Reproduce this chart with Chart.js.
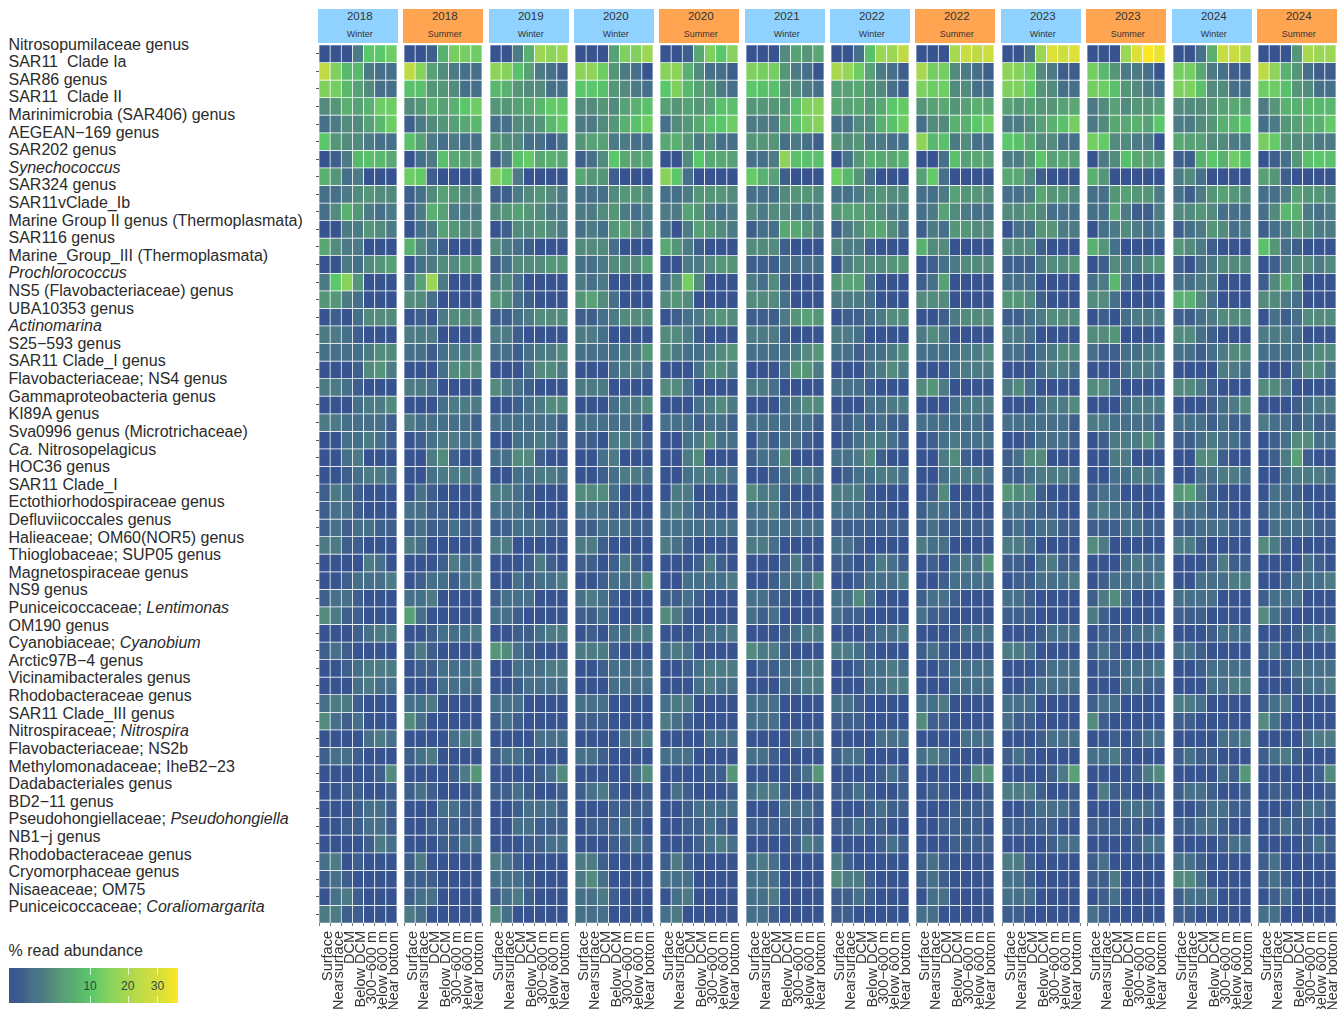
<!DOCTYPE html>
<html><head><meta charset="utf-8">
<script src="https://cdn.jsdelivr.net/npm/chart.js@4"></script>
<style>
html,body{margin:0;padding:0;background:#fff;width:1344px;height:1009px;overflow:hidden;font-family:"Liberation Sans",Arial,sans-serif}
canvas{position:absolute}
.lab{position:absolute;left:8.5px;font-size:16px;line-height:18px;color:#2b2b2b;white-space:pre}
.head{position:absolute;top:9px;height:34px;text-align:center;color:#333;padding-left:4px;box-sizing:border-box}
.head b{display:block;font-weight:normal;font-size:11.5px;line-height:15px}
.head i{display:block;font-style:normal;font-size:9px;line-height:18px;padding-top:1px}
</style></head><body>
<script>
const panelYears=["2018","2018","2019","2020","2020","2021","2022","2022","2023","2023","2024","2024"];
const panelSeasons=["Winter","Summer","Winter","Winter","Summer","Winter","Winter","Summer","Winter","Summer","Winter","Summer"];
const depths=["Surface","Nearsurface","DCM","Below DCM","300−600 m","Below 600 m","Near bottom"];
const taxa=["Nitrosopumilaceae genus","SAR11  Clade Ia","SAR86 genus","SAR11  Clade II","Marinimicrobia (SAR406) genus","AEGEAN−169 genus","SAR202 genus","*Synechococcus*","SAR324 genus","SAR11vClade_Ib","Marine Group II genus (Thermoplasmata)","SAR116 genus","Marine_Group_III (Thermoplasmata)","*Prochlorococcus*","NS5 (Flavobacteriaceae) genus","UBA10353 genus","*Actinomarina*","S25−593 genus","SAR11 Clade_I genus","Flavobacteriaceae; NS4 genus","Gammaproteobacteria genus","KI89A genus","Sva0996 genus (Microtrichaceae)","*Ca.* Nitrosopelagicus","HOC36 genus","SAR11 Clade_I","Ectothiorhodospiraceae genus","Defluviicoccales genus","Halieaceae; OM60(NOR5) genus","Thioglobaceae; SUP05 genus","Magnetospiraceae genus","NS9 genus","Puniceicoccaceae; *Lentimonas*","OM190 genus","Cyanobiaceae; *Cyanobium*","Arctic97B−4 genus","Vicinamibacterales genus","Rhodobacteraceae genus","SAR11 Clade_III genus","Nitrospiraceae; *Nitrospira*","Flavobacteriaceae; NS2b","Methylomonadaceae; IheB2−23","Dadabacteriales genus","BD2−11 genus","Pseudohongiellaceae; *Pseudohongiella*","NB1−j genus","Rhodobacteraceae genus","Cryomorphaceae genus","Nisaeaceae; OM75","Puniceicoccaceae; *Coraliomargarita*"];

const legendTicks=[10,20,30];
const scaleValues=[0,.4,1,2,3,5,7,10,16,20,26,32,38];
const scaleColors=["#375490","#3e5f8c","#46708a","#4c7a85","#528a7d","#58a076","#5ab070","#5ac86a","#8fd45a","#a8d850","#c8dd42","#dde038","#fde725"];

const r00=[0,0,0,2,10,10,12, 0,0,.4,7,13,13,12, 0,0,2,7,18,16,18, 0,0,0,5,14,14,18, 0,0,.4,6,14,10,15, 0,0,0,3,5,4,6, 0,0,1,9,18,18,24, 0,0,0,20,26,24,28, 0,0,1,18,32,28,32, 0,0,0,18,32,38,34, 0,0,1,7,26,26,22, 0,0,0,4,20,18,18];
const r01=[24,14,8,8,2,1,1, 24,15,5,3,2,1,1, 16,15,9,5,2,1,.4, 16,16,12,4,2,1,0, 15,16,7,3,1,1,.4, 14,13,13,4,2,1,0, 20,17,12,5,2,1,.4, 20,13,13,3,2,1,.4, 16,15,12,3,2,.4,.4, 13,8,4,2,2,1,0, 13,13,6,2,1,.4,.4, 24,16,7,4,1,.4,.4];
const r02=[14,13,8,5,3,1,1, 9,9,4,4,3,1,1, 8,7,4,3,3,1,1, 10,10,9,4,3,2,1, 10,14,8,5,4,2,1, 10,9,9,4,3,2,1, 5,5,6,4,3,1,.4, 14,12,12,3,3,1,1, 14,14,11,4,3,1,1, 13,12,9,4,3,2,1, 14,14,9,3,3,1,1, 12,12,9,4,3,1,1];
const r03=[3,4,7,5,7,12,12, 3,4,7,5,7,10,12, 4,4,5,6,8,11,11, 3,3,4,3,5,7,9, 5,4,5,4,5,9,9, 4,4,4,4,9,14,15, 6,5,6,4,6,10,11, 4,5,6,4,5,7,6, 5,4,5,4,4,5,6, 2,3,5,3,4,4,5, 3,3,3,4,5,6,5, 2,4,7,7,8,8,8];
const r04=[1,2,3,3,5,8,12, .4,2,3,4,5,6,8, 1,1,3,3,4,8,11, 2,2,3,4,7,9,12, 1,3,4,6,9,10,12, 2,2,2,5,9,13,15, 1,1,3,3,7,9,12, 1,3,3,7,7,10,12, 2,2,3,5,7,9,13, 2,3,6,6,7,5,10, 2,2,3,4,7,8,10, 1,2,4,5,7,7,11];
const r05=[10,4,3,3,2,1,1, 9,5,2,1,2,1,1, 4,3,3,1,1,.4,1, 4,5,5,2,2,1,1, 6,7,4,2,3,1,1, 4,4,4,1,2,1,.4, 4,3,4,2,2,1,1, 16,8,9,2,3,1,1, 10,9,6,3,3,1,1, 13,11,3,3,2,2,0, 6,5,5,3,3,2,2, 13,11,4,3,3,2,2];
const r06=[0,.4,2,8,9,8,6, 0,1,2,9,6,5,5, .4,2,9,11,6,7,6, .4,1,3,10,6,5,6, 0,0,3,10,6,6,5, 1,1,2,16,9,9,9, 0,1,4,7,6,6,7, 0,0,1,9,5,6,5, 2,2,4,10,5,6,5, 0,2,3,9,6,5,5, .4,.4,7,10,7,12,9, 0,.4,1,4,9,10,9];
const r07=[7,4,1,2,0,0,0, 12,11,.4,0,0,0,0, 14,11,2,0,0,0,0, 6,4,4,.4,0,0,0, 15,10,1,0,0,0,0, 11,7,5,.4,0,0,0, 12,8,4,1,0,0,0, 5,11,1,0,0,0,0, 6,6,3,.4,0,0,0, 7,4,0,0,0,0,0, 2,3,1,0,0,0,0, 5,4,.4,0,0,0,0];
const r08=[1,1,2,3,4,3,3, .4,1,3,5,4,3,3, .4,.4,2,3,4,3,2, 1,1,1,3,4,4,3, 1,1,2,4,4,4,3, 1,1,1,3,4,4,3, 1,1,2,3,4,3,3, 1,1,2,5,4,4,3, 1,1,2,6,4,4,3, 1,1,4,5,4,4,2, 1,.4,2,4,5,4,3, 1,1,2,5,4,4,3];
const r09=[1,3,7,4,2,1,2, .4,2,7,5,2,2,2, 3,4,5,4,3,2,2, 2,2,3,4,2,1,2, 2,2,5,4,2,1,2, 3,2,3,3,2,1,2, 4,5,5,4,3,2,2, 1,2,5,3,2,1,1, 3,3,4,3,1,1,1, 1,1,6,2,.4,.4,2, 3,3,4,3,1,1,1, 1,3,8,7,2,1,2];
const r10=[0,0,2,2,4,3,2, 0,1,2,5,4,3,3, 0,.4,3,3,4,3,2, 1,2,1,4,5,3,2, 1,0,2,5,4,3,2, .4,1,1,6,6,4,2, .4,2,3,5,6,3,1, .4,2,1,4,4,3,3, 0,1,1,4,4,2,2, 0,1,2,3,2,1,2, .4,1,2,4,3,1,2, .4,1,2,4,3,2,2];
const r11=[6,3,2,2,0,0,0, 7,3,1,.4,0,0,0, 3,2,1,.4,0,0,0, 3,3,3,1,0,0,0, 6,4,2,.4,0,0,0, 3,3,3,.4,0,0,0, 3,2,2,.4,0,0,0, 7,3,3,0,0,0,0, 3,3,3,.4,0,0,0, 7,4,1,0,0,0,0, 4,3,2,.4,0,0,0, 9,4,1,.4,0,0,0];
const r12=[0,0,2,1,3,4,5, 0,1,2,3,3,4,4, .4,1,3,3,3,4,4, 1,1,2,3,3,3,5, 0,0,2,2,3,4,4, .4,.4,.4,1,1,1,1, 0,2,3,3,3,4,4, 0,.4,1,2,3,3,3, .4,.4,.4,2,3,3,4, 0,.4,3,2,2,3,4, .4,0,1,2,3,3,3, 0,.4,2,3,3,2,3];
const r13=[2,10,15,4,0,0,0, 1,5,18,2,0,0,0, 2,3,1,0,0,0,0, 2,1,2,0,0,0,0, 1,3,13,3,0,0,0, 2,1,3,.4,0,0,0, 4,5,5,1,0,0,0, .4,1,5,0,0,0,0, 1,1,1,0,0,0,0, 1,2,8,1,0,0,0, 1,1,2,2,0,0,0, .4,3,6,3,0,0,0];
const r14=[4,4,2,1,0,0,0, 3,3,1,0,0,0,0, 4,3,1,.4,0,0,0, 4,5,3,1,0,0,0, 3,4,3,0,0,0,0, 3,3,3,1,0,0,0, 2,2,2,1,0,0,0, 3,3,3,0,0,0,0, 4,4,3,.4,0,0,0, 3,3,1,0,0,0,0, 7,7,3,1,0,0,0, 3,3,2,1,0,0,0];
const r15=[0,.4,0,1,3,3,3, 0,.4,0,2,3,3,3, .4,.4,1,2,3,3,3, .4,.4,1,2,3,3,3, 0,.4,1,2,3,4,3, .4,.4,.4,2,4,5,4, 0,.4,.4,1,2,3,3, 0,0,.4,2,3,3,3, .4,.4,1,2,3,3,3, 0,.4,0,1,2,2,2, .4,.4,1,2,3,3,3, 0,1,.4,1,3,3,3];
const r16=[2,2,1,.4,0,0,0, 2,2,2,0,0,0,0, 2,2,.4,0,0,0,0, 2,2,1,0,0,0,0, 3,3,2,.4,0,0,0, 2,2,2,.4,0,0,0, 2,2,1,0,0,0,0, 2,3,2,0,0,0,0, 2,2,1,0,0,0,0, 3,3,4,0,0,0,0, 3,3,1,.4,0,0,0, 2,2,2,1,0,0,0];
const r17=[1,1,1,1,2,3,3, 1,1,.4,1,2,2,3, 1,1,.4,1,2,2,3, 1,1,1,1,2,2,4, 3,2,1,1,2,3,4, 1,1,1,1,2,3,4, 1,1,.4,1,1,2,3, 1,1,1,1,2,2,3, 1,1,.4,1,2,3,3, 1,.4,.4,1,1,2,2, 1,1,.4,1,2,3,3, 1,1,1,1,2,3,3];
const r18=[0,0,0,.4,3,4,2, 0,0,0,1,3,3,3, 0,0,0,1,3,3,2, 0,0,0,1,2,2,1, 0,0,0,1,3,3,2, 0,0,0,1,4,4,2, 0,0,0,1,2,3,2, 0,0,0,1,2,2,2, 0,0,0,1,2,2,1, 0,0,0,1,2,2,1, 0,0,0,0,2,2,1, 0,0,0,1,3,3,1];
const r19=[2,2,1,.4,0,0,0, 2,2,1,0,0,0,0, 3,2,1,.4,0,0,0, 2,2,2,0,0,0,0, 3,3,1,0,0,0,0, 2,2,1,0,0,0,0, 1,1,1,.4,0,0,0, 3,4,2,0,0,0,0, 2,3,1,0,0,0,0, 3,3,1,0,0,0,0, 3,3,2,.4,0,0,0, 3,3,2,0,0,0,0];
const r20=[0,0,0,1,2,2,3, 0,0,0,1,2,2,2, 0,0,.4,1,2,3,3, 0,0,0,1,2,2,3, 0,0,0,1,2,3,2, 0,0,0,1,2,3,3, 0,0,0,1,1,2,2, 0,0,0,1,2,2,2, 0,0,0,1,2,2,3, 0,0,0,1,2,2,2, 0,0,0,.4,1,2,3, 0,0,0,.4,1,2,2];
const r21=[2,2,1,1,1,1,.4, 2,1,1,1,1,1,.4, 1,1,1,1,1,1,.4, 1,1,1,1,1,1,0, 1,1,1,.4,1,1,.4, 1,1,1,1,1,1,.4, .4,.4,1,.4,1,.4,.4, 1,1,1,1,1,1,.4, 1,1,1,1,1,1,.4, 2,2,1,1,1,1,.4, 1,1,1,.4,1,.4,.4, 2,1,1,.4,1,.4,.4];
const r22=[0,0,1,1,2,1,.4, 0,.4,1,2,2,1,1, 0,0,1,1,2,1,.4, .4,.4,0,2,2,1,.4, 0,0,1,2,3,1,1, 0,1,.4,1,1,.4,0, 0,.4,1,2,2,1,.4, 0,.4,1,2,1,1,1, 0,0,.4,1,1,1,.4, 0,.4,2,2,2,3,1, .4,.4,1,2,1,1,.4, 0,.4,1,3,3,1,1];
const r23=[0,0,1,2,0,0,0, 0,0,2,3,.4,0,0, 1,1,3,3,.4,0,0, 0,0,1,2,0,0,0, 0,0,2,3,0,0,0, .4,1,1,3,0,0,0, 1,1,2,3,.4,0,0, 0,0,2,3,.4,0,0, .4,1,3,3,0,0,0, 0,0,2,2,0,0,0, 0,0,3,3,.4,0,0, 0,.4,2,5,.4,0,0];
const r24=[0,0,.4,1,2,2,1, 0,0,1,2,2,2,1, 0,0,1,1,2,2,1, 0,0,.4,1,2,2,1, 0,0,1,2,2,2,1, 0,0,.4,1,2,2,1, 0,.4,1,1,2,2,1, 0,0,1,2,2,2,1, .4,.4,1,2,2,2,1, 0,0,1,1,2,2,1, 0,0,1,1,2,2,1, 0,0,1,2,2,2,1];
const r25=[.4,2,1,.4,0,0,0, 0,1,.4,0,0,0,0, 2,2,1,.4,0,0,0, 3,3,3,1,0,0,0, 0,2,2,0,0,0,0, 3,2,2,.4,0,0,0, 2,2,2,.4,0,0,0, 0,.4,3,0,0,0,0, 4,3,3,.4,0,0,0, .4,1,1,0,0,0,0, 4,5,2,.4,0,0,0, 0,1,1,.4,0,0,0];
const r26=[.4,1,1,.4,0,0,0, 1,1,.4,.4,0,0,0, 1,1,1,.4,0,0,0, 1,1,1,.4,.4,0,0, 1,2,1,.4,.4,0,0, 1,1,2,.4,.4,0,0, 1,1,1,.4,.4,0,0, .4,1,1,.4,.4,0,0, 1,1,1,.4,.4,0,0, 1,2,1,1,.4,0,0, 1,1,1,.4,.4,0,0, .4,1,1,1,.4,0,0];
const r27=[.4,1,.4,1,1,.4,.4, .4,1,.4,.4,1,.4,.4, .4,.4,1,1,1,.4,.4, .4,.4,1,1,1,.4,.4, 1,1,1,1,1,1,1, 1,1,1,1,1,1,1, .4,.4,.4,.4,.4,.4,.4, .4,1,.4,.4,.4,.4,.4, .4,1,.4,1,1,.4,.4, .4,.4,.4,1,1,.4,.4, .4,.4,1,1,1,.4,.4, 0,1,1,1,1,.4,.4];
const r28=[2,2,.4,.4,0,0,0, 2,1,0,0,0,0,0, 2,2,0,0,0,0,0, 2,2,.4,0,0,0,0, 2,1,.4,0,0,0,0, 2,2,1,0,0,0,0, 1,1,.4,0,0,0,0, 2,1,1,0,0,0,0, 2,2,1,0,0,0,0, 3,2,0,0,0,0,0, 2,2,.4,0,0,0,0, 3,2,.4,0,0,0,0];
const r29=[0,0,0,0,2,1,0, 0,0,0,.4,2,1,1, 0,0,0,.4,2,.4,0, .4,.4,0,.4,2,.4,0, 0,0,0,.4,2,.4,0, 0,0,0,.4,2,.4,0, .4,.4,0,.4,2,1,.4, 0,.4,0,1,2,1,4, .4,.4,0,1,2,.4,.4, 0,0,0,1,2,1,1, 0,0,0,.4,2,.4,.4, 0,0,0,0,1,.4,0];
const r30=[0,0,.4,1,1,1,2, 0,.4,1,1,.4,1,2, 0,0,1,.4,1,1,2, 0,0,.4,1,1,1,3, 0,0,1,1,1,1,2, 0,0,.4,1,1,1,3, 0,0,.4,1,1,1,2, 0,0,.4,1,1,1,1, 0,.4,.4,1,1,1,2, 0,.4,1,1,1,1,2, 0,0,1,1,1,2,2, 0,0,.4,1,1,1,2];
const r31=[.4,1,1,.4,0,0,0, 1,1,2,0,0,0,0, .4,1,1,1,0,0,0, 1,2,1,.4,0,0,0, .4,.4,1,.4,0,0,0, 1,1,.4,.4,0,0,0, 1,1,3,1,0,0,0, .4,1,1,.4,0,0,0, 1,1,.4,0,0,0,0, .4,2,3,1,0,0,0, 1,1,1,1,0,0,0, .4,1,1,1,0,0,0];
const r32=[3,2,.4,.4,0,0,0, 5,1,0,0,0,0,0, 1,1,.4,0,0,0,0, .4,.4,1,0,0,0,0, 3,2,.4,0,0,0,0, 1,.4,1,0,0,0,0, 1,.4,.4,0,0,0,0, 1,.4,.4,0,0,0,0, .4,.4,.4,0,0,0,0, 2,.4,0,0,0,0,0, .4,.4,.4,0,0,0,0, 3,1,.4,0,0,0,0];
const r33=[0,0,0,.4,1,2,2, 0,0,.4,1,1,1,2, 0,0,.4,.4,1,2,2, 0,.4,0,1,1,2,2, 0,0,0,.4,1,1,2, 0,0,0,.4,1,2,2, 0,0,0,.4,1,1,2, 0,0,0,.4,1,1,1, 0,0,0,.4,1,1,1, 0,.4,.4,.4,1,1,2, 0,0,0,.4,1,1,1, 0,0,0,.4,1,1,2];
const r34=[.4,1,.4,0,0,0,0, .4,2,.4,0,0,0,0, 4,3,1,.4,0,0,0, 2,2,2,.4,0,0,0, 1,2,1,0,0,0,0, 3,2,2,.4,0,0,0, 2,2,1,.4,0,0,0, .4,1,.4,0,0,0,0, 2,2,1,0,0,0,0, .4,1,.4,0,0,0,0, 1,1,.4,0,0,0,0, .4,1,0,0,0,0,0];
const r35=[0,0,.4,1,2,2,2, 0,.4,.4,1,1,1,2, 0,0,1,1,1,2,2, 0,0,.4,1,1,1,1, 0,0,.4,1,2,2,2, 0,.4,.4,1,1,2,2, 0,0,.4,1,1,2,1, 0,0,.4,1,1,1,1, 0,0,0,.4,1,1,1, 0,.4,.4,1,1,1,2, 0,0,.4,1,1,1,1, 0,0,.4,1,1,1,1];
const r36=[0,0,0,1,2,1,1, 0,0,0,1,1,1,1, 0,0,.4,1,1,1,1, 0,0,0,1,1,1,1, 0,0,0,1,2,1,1, 0,0,0,1,1,2,2, 0,0,0,1,1,2,2, 0,0,0,1,1,1,1, 0,0,.4,1,1,1,1, 0,0,0,1,1,.4,.4, 0,0,0,1,1,2,2, 0,0,0,.4,1,1,2];
const r37=[1,2,2,.4,0,0,0, 1,1,2,0,0,0,0, 1,1,1,0,0,0,0, 1,1,1,0,0,0,0, 1,2,2,0,0,0,0, 1,1,1,0,0,0,0, 1,1,.4,0,0,0,0, 1,1,2,0,0,0,0, 1,1,1,0,0,0,0, .4,1,1,0,0,0,0, 2,2,1,0,0,0,0, .4,1,2,0,0,0,0];
const r38=[3,1,.4,1,0,0,0, 3,1,0,0,0,0,0, .4,1,.4,0,0,0,0, .4,.4,.4,0,0,0,0, 2,1,.4,0,0,0,0, 1,1,1,0,0,0,0, .4,.4,.4,0,0,0,0, 3,.4,.4,0,0,0,0, 1,.4,.4,0,0,0,0, 3,.4,0,0,0,0,0, .4,.4,0,0,0,0,0, 3,1,0,0,0,0,0];
const r39=[0,0,0,0,1,2,1, 0,0,0,0,1,2,2, 0,0,0,0,1,1,1, 0,0,0,0,1,1,2, 0,0,0,0,1,1,1, 0,0,0,0,1,1,1, 0,0,0,0,1,1,1, 0,0,0,0,1,1,1, 0,0,0,.4,1,1,1, 0,0,.4,0,.4,1,1, 0,0,0,0,1,1,2, 0,0,0,0,1,2,2];
const r40=[.4,1,1,.4,0,0,0, .4,1,2,0,0,0,0, .4,1,1,.4,0,0,0, 1,1,.4,0,0,0,0, 1,1,1,0,0,0,0, 1,1,.4,0,0,0,0, .4,1,1,0,0,0,0, 1,2,1,0,0,0,0, .4,1,.4,0,0,0,0, 1,1,2,.4,0,0,0, .4,1,.4,.4,0,0,0, .4,1,2,.4,0,0,0];
const r41=[0,0,0,0,0,.4,3, 0,0,0,0,.4,2,4, 0,0,0,0,.4,1,3, 0,0,0,0,0,1,3, 0,0,0,0,.4,.4,4, 0,0,0,0,.4,1,4, 0,0,0,0,.4,1,.4, 0,0,0,0,.4,3,4, 0,0,0,0,.4,2,5, 0,0,0,0,.4,2,3, 0,0,0,0,1,.4,4, 0,0,0,0,0,.4,3];
const r42=[0,0,.4,.4,0,0,.4, .4,1,.4,0,0,0,.4, .4,.4,1,.4,0,0,.4, .4,1,2,.4,0,0,.4, 0,1,.4,0,0,0,.4, 1,2,2,.4,0,0,.4, .4,.4,1,.4,0,0,.4, 0,.4,.4,0,0,0,.4, 2,2,2,.4,0,0,.4, 0,2,.4,.4,0,0,.4, .4,1,1,.4,0,0,.4, 0,.4,.4,0,0,0,.4];
const r43=[0,0,0,.4,1,1,.4, 0,0,0,1,1,.4,.4, 0,0,.4,1,1,1,.4, 0,0,0,.4,.4,.4,.4, 0,0,.4,1,1,1,1, 0,0,0,1,1,1,.4, 0,0,0,.4,1,.4,.4, 0,0,0,.4,.4,.4,.4, 0,0,.4,1,1,1,.4, 0,0,0,1,1,1,.4, 0,0,.4,1,1,.4,.4, 0,0,0,.4,1,1,.4];
const r44=[0,0,.4,.4,1,1,.4, 0,0,.4,.4,.4,.4,.4, 0,0,1,1,.4,.4,.4, 0,.4,.4,.4,1,.4,0, 0,0,.4,.4,1,.4,0, .4,.4,.4,.4,.4,.4,0, .4,.4,1,.4,.4,0,0, 0,0,.4,.4,.4,.4,0, .4,.4,.4,.4,.4,0,0, .4,.4,.4,.4,.4,0,0, .4,.4,1,1,.4,0,0, 0,.4,1,.4,.4,0,0];
const r45=[0,0,0,0,.4,2,1, 0,0,0,.4,.4,1,1, 0,0,0,.4,.4,1,1, 0,0,0,.4,.4,1,.4, 0,0,0,.4,1,2,1, 0,0,0,0,.4,2,1, 0,0,0,0,.4,1,.4, 0,0,0,.4,.4,.4,.4, 0,0,0,0,.4,1,1, 0,0,0,0,.4,1,1, 0,0,0,0,.4,1,1, 0,0,0,0,.4,1,.4];
const r46=[1,2,0,.4,0,0,0, .4,2,0,0,0,0,0, 2,1,.4,0,0,0,0, 2,2,.4,0,0,0,0, .4,2,.4,0,0,0,0, 1,2,1,0,0,0,0, 2,.4,0,0,0,0,0, .4,1,.4,0,0,0,0, 2,2,.4,0,0,0,0, .4,1,0,0,0,0,0, 1,1,.4,0,0,0,0, .4,1,0,0,0,0,0];
const r47=[.4,1,.4,0,0,0,0, .4,.4,.4,0,0,0,0, 1,1,1,.4,0,0,0, 2,3,1,0,0,0,0, 1,1,1,0,0,0,0, 1,1,1,0,0,0,0, 3,2,2,.4,0,0,0, .4,1,.4,0,0,0,0, 1,1,.4,0,0,0,0, .4,.4,2,0,0,0,0, 3,3,1,0,0,0,0, .4,1,.4,0,0,0,0];
const r48=[0,1,2,.4,0,0,0, .4,1,1,0,0,0,0, .4,1,2,.4,0,0,0, 1,1,2,.4,0,0,0, 0,1,2,0,0,0,0, 1,1,2,0,0,0,0, .4,.4,1,.4,0,0,0, 0,1,1,0,0,0,0, 1,1,1,0,0,0,0, 0,.4,1,0,0,0,0, .4,1,1,1,0,0,0, 0,.4,1,0,0,0,0];
const r49=[2,2,.4,.4,0,0,0, 2,1,0,0,0,0,0, 3,1,0,0,0,0,0, 1,1,1,0,0,0,0, 1,2,0,0,0,0,0, 1,1,.4,0,0,0,0, .4,.4,0,0,0,0,0, 1,1,0,0,0,0,0, .4,.4,0,0,0,0,0, 1,.4,0,0,0,0,0, .4,.4,0,0,0,0,0, 1,1,0,0,0,0,0];
const rows=[r00,r01,r02,r03,r04,r05,r06,r07,r08,r09,r10,r11,r12,r13,r14,r15,r16,r17,r18,r19,r20,r21,r22,r23,r24,r25,r26,r27,r28,r29,r30,r31,r32,r33,r34,r35,r36,r37,r38,r39,r40,r41,r42,r43,r44,r45,r46,r47,r48,r49];

const MAXV=38;
const tOf=v=>Math.pow(v/MAXV,.55);
const hex=c=>[1,3,5].map(i=>parseInt(c.slice(i,i+2),16));
function colorOf(v){
  let i=0; while(i<scaleValues.length-2&&v>scaleValues[i+1])i++;
  const a=tOf(scaleValues[i]),b=tOf(scaleValues[i+1]),f=Math.min(1,Math.max(0,(tOf(v)-a)/(b-a)));
  const A=hex(scaleColors[i]),B=hex(scaleColors[i+1]);
  return "rgb("+A.map((x,k)=>Math.round(x+(B[k]-x)*f)).join(",")+")";
}

/* row labels */
taxa.forEach((t,i)=>{
  const d=document.createElement("div");d.className="lab";
  d.style.top=(35.5+17.61*i)+"px";
  t.split("*").forEach((s,k)=>{const e=document.createElement(k%2?"i":"span");e.textContent=s;d.appendChild(e);});
  document.body.appendChild(d);
});

/* panels */
const PX0=319,PITCH=85.35,PW=78,TOP=45,CH=964,AXH=86;
panelYears.forEach((yr,p)=>{
  const px=Math.round(PX0+PITCH*p);
  const h=document.createElement("div");h.className="head";
  h.style.left=(px-1.5)+"px";h.style.width="80.5px";
  h.style.background=panelSeasons[p]==="Winter"?"#8fd2ff":"#ffa552";
  const b=document.createElement("b");b.textContent=yr;const it=document.createElement("i");it.textContent=panelSeasons[p];
  h.append(b,it);document.body.appendChild(h);

  const c=document.createElement("canvas");c.width=PW+8;c.height=CH;
  c.style.left=(px-4)+"px";c.style.top=TOP+"px";document.body.appendChild(c);
  new Chart(c,{
    type:"bar",
    data:{labels:depths,datasets:taxa.map((t,i)=>({
      label:t,
      data:depths.map(()=>1),
      backgroundColor:ctx=>colorOf(rows[i][p*7+ctx.dataIndex]),
      borderColor:"rgba(255,255,255,.95)",borderWidth:.7,borderSkipped:false,
      barPercentage:1,categoryPercentage:1
    }))},
    options:{
      responsive:false,animation:false,events:[],
      layout:{padding:{left:0,right:4,top:0,bottom:0}},
      plugins:{legend:{display:false},tooltip:{enabled:false}},
      scales:{
        x:{stacked:true,
          grid:{drawOnChartArea:false,drawTicks:true,tickLength:3,color:"#777"},
          border:{display:false},
          ticks:{autoSkip:false,minRotation:90,maxRotation:90,padding:5,labelOffset:3,color:"#333",font:{family:"Liberation Sans",size:14.5}},
          afterFit:s=>{s.height=AXH;s.paddingLeft=0;s.paddingRight=0;}
        },
        y:{stacked:true,reverse:true,min:0,max:taxa.length,
          grid:{drawOnChartArea:false,drawTicks:true,tickLength:3,color:p===0?"#555":"rgba(0,0,0,0)"},
          border:{display:false},
          ticks:{display:false},
          afterBuildTicks:s=>{s.ticks=taxa.map((_,i)=>({value:i+.5}));},
          afterFit:s=>{s.width=4;}
        }
      }
    }
  });
});

/* legend */
const lt=document.createElement("div");lt.className="lab";lt.textContent="% read abundance";lt.style.top="942px";document.body.appendChild(lt);
const bar=document.createElement("div");
bar.style.cssText="position:absolute;left:9px;top:968px;width:169px;height:35px";
bar.style.background="linear-gradient(to right,"+scaleValues.map((v,i)=>scaleColors[i]+" "+(tOf(v)*100).toFixed(1)+"%").join(",")+")";
document.body.appendChild(bar);
legendTicks.forEach(v=>{
  const x=tOf(v)*169;
  const mk=(top)=>{const m=document.createElement("div");m.style.cssText="position:absolute;width:1px;height:7px;background:rgba(255,255,255,.75);left:"+x+"px;top:"+top+"px";bar.appendChild(m);};
  mk(0);mk(28);
  const s=document.createElement("div");s.textContent=v;
  s.style.cssText="position:absolute;width:30px;text-align:center;font-size:12px;line-height:14px;color:#2c4a3a;top:11px;left:"+(x-15)+"px";
  bar.appendChild(s);
});
</script>
</body></html>
